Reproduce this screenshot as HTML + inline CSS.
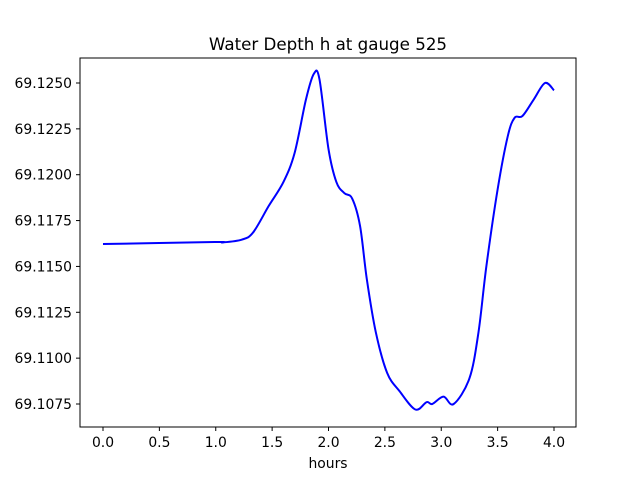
<!DOCTYPE html>
<html><head><meta charset="utf-8"><style>
body{margin:0;background:#fff;font-family:"DejaVu Sans","Liberation Sans",sans-serif}
</style></head><body>
<svg width="640" height="480" xmlns="http://www.w3.org/2000/svg" font-family="DejaVu Sans, Liberation Sans, sans-serif">
<rect width="640" height="480" fill="#fff"/>
<text x="328" y="50" text-anchor="middle" font-size="16.7">Water Depth h at gauge 525</text>
<g id="ticks"></g>
<path id="line" fill="none" stroke="#0000ff" stroke-width="2"/>
<rect x="80" y="58" width="496" height="369" fill="none" stroke="#000" stroke-width="1"/>
<text x="328" y="468" text-anchor="middle" font-size="13.9">hours</text>
</svg>
<script>
const hours=[0,0.99,1.06,1.23,1.33,1.47,1.6,1.7,1.8,1.87,1.92,2.0,2.07,2.14,2.21,2.28,2.34,2.42,2.52,2.63,2.77,2.87,2.92,3.02,3.11,3.25,3.33,3.4,3.5,3.59,3.65,3.72,3.82,3.92,4.0];
const depth=[69.11622,69.11633,69.11631,69.11646,69.11684,69.1183,69.1196,69.1212,69.1241,69.1255,69.1252,69.1214,69.1196,69.119,69.1187,69.1172,69.1143,69.1114,69.1092,69.1082,69.1072,69.1076,69.1075,69.1079,69.1075,69.1089,69.1114,69.115,69.1192,69.1221,69.1231,69.1232,69.1241,69.125,69.1246];
const xTicks=[0,0.5,1,1.5,2,2.5,3,3.5,4];
const yTicks=[69.1075,69.11,69.1125,69.115,69.1175,69.12,69.1225,69.125];
const X=t=>103+t*112.75;
const Y=v=>404-(v-69.1075)/0.0175*321;
const NS="http://www.w3.org/2000/svg";
const g=document.getElementById('ticks');
function mk(tag,attrs,txt){const e=document.createElementNS(NS,tag);for(const k in attrs)e.setAttribute(k,attrs[k]);if(txt!==undefined)e.textContent=txt;g.appendChild(e);return e;}
xTicks.forEach(t=>{
 const l=mk('line',{x1:X(t),x2:X(t),y1:427,y2:431,stroke:'#000'});
 
 
 const s=mk('text',{x:X(t),y:447,'text-anchor':'middle','font-size':'13.9'},t.toFixed(1));
 
 
});
yTicks.forEach(v=>{
 const l=mk('line',{x1:76,x2:80,y1:Y(v),y2:Y(v),stroke:'#000'});
 
 
 const s=mk('text',{x:72,y:Y(v)+5,'text-anchor':'end','font-size':'13.9'},v.toFixed(4));
 
 
});
const p=hours.map((t,i)=>[X(t),Y(depth[i])]);
let d='M'+p[0][0]+','+p[0][1];
for(let i=0;i<p.length-1;i++){
 const p0=p[i-1]||p[i],p1=p[i],p2=p[i+1],p3=p[i+2]||p2;
 const c1=[p1[0]+(p2[0]-p0[0])/6,p1[1]+(p2[1]-p0[1])/6];
 const c2=[p2[0]-(p3[0]-p1[0])/6,p2[1]-(p3[1]-p1[1])/6];
 d+=' C'+c1+' '+c2+' '+p2;
}
document.getElementById('line').setAttribute('d',d);
</script>
</body></html>
